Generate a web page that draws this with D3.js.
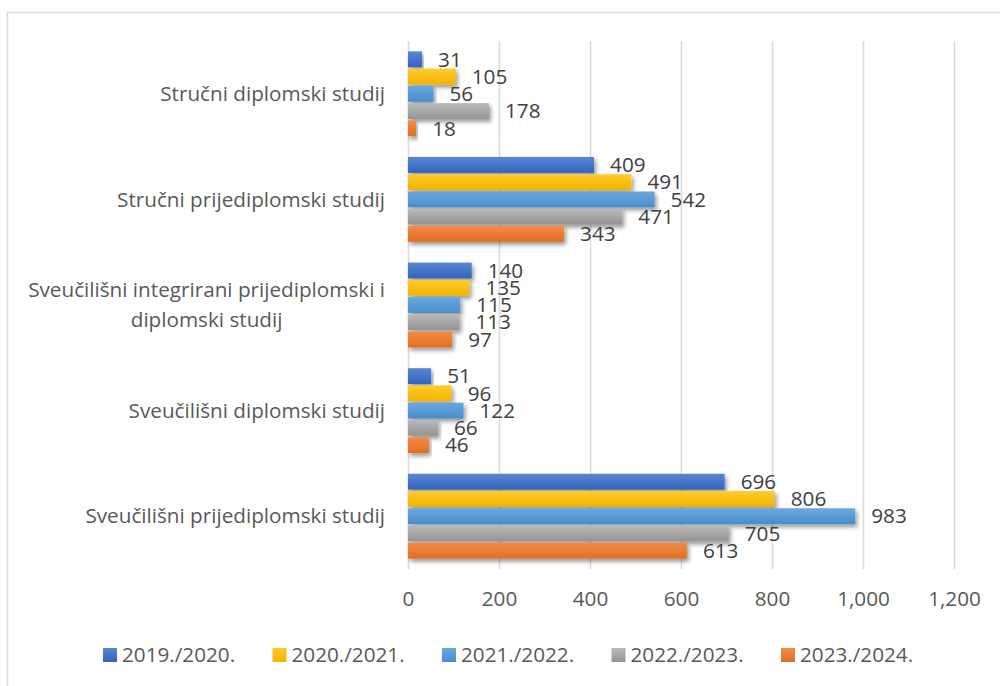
<!DOCTYPE html>
<html>
<head>
<meta charset="utf-8">
<script src="https://cdn.jsdelivr.net/npm/d3@7"></script>
<style>
  body { margin: 0; background: #fff; }
  #chart { width: 1000px; height: 686px; }
  text { font-family: "Open Sans", "Noto Sans", sans-serif; }
</style>
</head>
<body>
<div id="chart"></div>
<script>
const categories = [
    ["Stručni diplomski studij"],
    ["Stručni prijediplomski studij"],
    ["Sveučilišni integrirani prijediplomski i", "diplomski studij"],
    ["Sveučilišni diplomski studij"],
    ["Sveučilišni prijediplomski studij"]
];
const seriesNames = ["2019./2020.", "2020./2021.", "2021./2022.", "2022./2023.", "2023./2024."];
const values2019 = [31, 409, 140, 51, 696];
const values2020 = [105, 491, 135, 96, 806];
const values2021 = [56, 542, 115, 122, 983];
const values2022 = [178, 471, 113, 66, 705];
const values2023 = [18, 343, 97, 46, 613];
const xTicks = [0, 200, 400, 600, 800, 1000, 1200];

const seriesValues = [values2019, values2020, values2021, values2022, values2023];
// top / bottom shade of each bar gradient
const seriesColors = [
    ["#5b87d2", "#3263be"],
    ["#ffcc2e", "#efb300"],
    ["#6ba8e0", "#4a8ccb"],
    ["#bababa", "#939393"],
    ["#f38c48", "#e26d22"]
];

class GroupedBarChart {
    constructor(parentElement) {
        this.parentElement = parentElement;
        this.margin = {top: 41, left: 408, right: 46, bottom: 117};
        this.fontSize = 20.7;
        this.initVis();
    }

    initVis() {
        const vis = this;

        vis.width = 1000 - vis.margin.left - vis.margin.right;
        vis.height = 686 - vis.margin.top - vis.margin.bottom;

        const root = d3.select(`#${vis.parentElement}`).append("svg")
            .attr("width", 1000)
            .attr("height", 686);

        const defs = root.append("defs");
        seriesColors.forEach((c, i) => {
            const g = defs.append("linearGradient")
                .attr("id", `grad${i}`)
                .attr("x1", 0).attr("y1", 0)
                .attr("x2", 0).attr("y2", 1);
            g.append("stop").attr("offset", "0%").attr("stop-color", c[0]);
            g.append("stop").attr("offset", "100%").attr("stop-color", c[1]);
        });
        defs.append("filter")
            .attr("id", "shadow")
            .attr("x", "-5%").attr("y", "-30%")
            .attr("width", "115%").attr("height", "190%")
            .append("feDropShadow")
            .attr("dx", 2).attr("dy", 3)
            .attr("stdDeviation", 2)
            .attr("flood-color", "#000")
            .attr("flood-opacity", 0.4);

        // chart area border
        root.append("rect")
            .attr("x", 7.5).attr("y", 12.5)
            .attr("width", 1010).attr("height", 700)
            .attr("fill", "none")
            .attr("stroke", "#d9d9d9")
            .attr("stroke-width", 1.5);

        vis.svg = root.append("g")
            .attr("transform", `translate(${vis.margin.left},${vis.margin.top})`);

        vis.x = d3.scaleLinear()
            .domain([0, 1200])
            .range([0, vis.width]);

        vis.y = d3.scaleBand()
            .domain(d3.range(categories.length))
            .range([0, vis.height])
            .paddingInner(0.17)
            .paddingOuter(0.085);

        vis.ySeries = d3.scaleBand()
            .domain(d3.range(seriesNames.length))
            .range([0, vis.y.bandwidth()])
            .padding(0.08);

        // gridlines
        const grid = vis.svg.append("g")
            .attr("transform", `translate(0,${vis.height})`)
            .call(d3.axisBottom(vis.x).tickValues(xTicks).tickSize(-vis.height).tickFormat(""));
        grid.select(".domain").remove();
        grid.selectAll("line")
            .attr("stroke", "#d9d9d9")
            .attr("stroke-width", 1.5);

        // tick labels
        const xAxis = vis.svg.append("g")
            .attr("transform", `translate(0,${vis.height})`)
            .call(d3.axisBottom(vis.x).tickValues(xTicks).tickSize(0).tickPadding(22).tickFormat(d3.format(",")));
        xAxis.select(".domain").remove();
        xAxis.selectAll("text")
            .attr("fill", "#595959")
            .attr("font-size", vis.fontSize)
            .attr("font-family", null);

        // category labels
        const labelRight = -23;
        const lineHeight = 30;
        categories.forEach((lines, i) => {
            const t = vis.svg.append("text")
                .attr("font-size", vis.fontSize)
                .attr("fill", "#595959")
                .attr("text-anchor", "middle");
            const cy = vis.y(i) + vis.y.bandwidth() / 2;
            lines.forEach((line, j) => {
                t.append("tspan")
                    .attr("y", cy + (j - (lines.length - 1) / 2) * lineHeight)
                    .attr("dy", "0.35em")
                    .text(line);
            });
            const w = d3.max(t.selectAll("tspan").nodes(), n => n.getComputedTextLength());
            t.selectAll("tspan").attr("x", labelRight - w / 2);
        });

        // bars
        const groups = vis.svg.selectAll(".series")
            .data(seriesValues)
            .enter()
            .append("g")
            .attr("class", "series");

        groups.selectAll("rect")
            .data((d, s) => d.map((v, i) => ({v: v, i: i, s: s})))
            .enter()
            .append("rect")
            .attr("x", vis.x(0))
            .attr("y", d => vis.y(d.i) + vis.ySeries(d.s))
            .attr("width", d => vis.x(d.v) - vis.x(0))
            .attr("height", vis.ySeries.bandwidth())
            .attr("fill", d => `url(#grad${d.s})`)
            .attr("filter", "url(#shadow)");

        groups.selectAll(".value-label")
            .data((d, s) => d.map((v, i) => ({v: v, i: i, s: s})))
            .enter()
            .append("text")
            .attr("class", "value-label")
            .attr("x", d => vis.x(d.v) + 16)
            .attr("y", d => vis.y(d.i) + vis.ySeries(d.s) + vis.ySeries.bandwidth() / 2)
            .attr("dy", "0.35em")
            .attr("font-size", vis.fontSize)
            .attr("fill", "#404040")
            .text(d => d.v);

        // legend
        const legend = root.append("g")
            .attr("transform", "translate(103,655)");
        const items = legend.selectAll("g")
            .data(seriesNames)
            .enter()
            .append("g")
            .attr("transform", (d, i) => `translate(${i * 169.5},0)`);
        items.append("rect")
            .attr("x", 0).attr("y", -7)
            .attr("width", 14).attr("height", 14)
            .attr("fill", (d, i) => `url(#grad${i})`);
        items.append("text")
            .attr("x", 19)
            .attr("dy", "0.35em")
            .attr("font-size", vis.fontSize)
            .attr("fill", "#595959")
            .text(d => d);
    }
}

new GroupedBarChart("chart");
</script>
</body>
</html>
